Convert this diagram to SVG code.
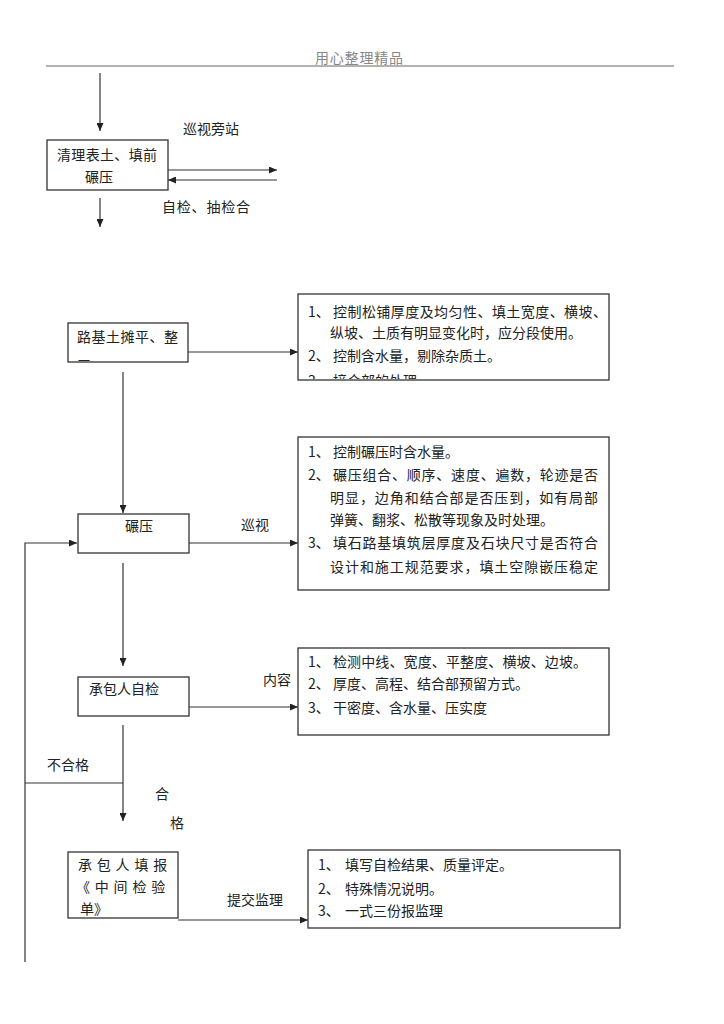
<svg xmlns="http://www.w3.org/2000/svg" width="724" height="1024" viewBox="0 0 724 1024">
<style>
text{font-family:"Noto Sans CJK SC","Liberation Sans",sans-serif;font-size:14px;fill:#222}
.hdr{fill:#888}
.box{fill:#fff;stroke:#333;stroke-width:1.3}
.ln{fill:none;stroke:#333;stroke-width:1.2}
</style>
<defs>
<marker id="ah" markerUnits="userSpaceOnUse" markerWidth="9" markerHeight="7" refX="8" refY="3.5" orient="auto"><path d="M0,0 L8,3.5 L0,7 z" fill="#222"/></marker>
<clipPath id="c2"><rect x="69" y="324" width="118" height="37"/></clipPath>
<clipPath id="c3"><rect x="299" y="295" width="309" height="84"/></clipPath>
<clipPath id="c7"><rect x="69" y="853" width="108" height="64"/></clipPath>
</defs>
<rect width="724" height="1024" fill="#fff"/>
<g id="header">
<text class="hdr" x="315" y="63" textLength="88">用心整理精品</text>
<line x1="46" y1="66" x2="674" y2="66" stroke="#666" stroke-width="1"/>
</g>
<g id="connectors">
<line class="ln" x1="100" y1="73" x2="100" y2="131" marker-end="url(#ah)"/>
<line class="ln" x1="168" y1="170" x2="277" y2="170" marker-end="url(#ah)"/>
<line class="ln" x1="277" y1="180" x2="168" y2="180" marker-end="url(#ah)"/>
<line class="ln" x1="100" y1="198" x2="100" y2="227" marker-end="url(#ah)"/>
<line class="ln" x1="188" y1="352" x2="298" y2="352" marker-end="url(#ah)"/>
<line class="ln" x1="123" y1="372" x2="123" y2="513" marker-end="url(#ah)"/>
<line class="ln" x1="189" y1="543" x2="298" y2="543" marker-end="url(#ah)"/>
<polyline class="ln" points="25,962 25,543 77,543" marker-end="url(#ah)"/>
<line class="ln" x1="123" y1="563" x2="123" y2="666" marker-end="url(#ah)"/>
<line class="ln" x1="189" y1="707" x2="298" y2="707" marker-end="url(#ah)"/>
<line class="ln" x1="123" y1="725" x2="123" y2="821" marker-end="url(#ah)"/>
<line class="ln" x1="25" y1="783" x2="123" y2="783"/>
<line class="ln" x1="178" y1="920" x2="308" y2="920" marker-end="url(#ah)"/>
</g>
<g id="labels">
<text x="183" y="134">巡视旁站</text>
<text x="162" y="212" textLength="88">自检、抽检合</text>
<text x="241" y="530">巡视</text>
<text x="263" y="685">内容</text>
<text x="47" y="770">不合格</text>
<text x="155" y="799">合</text>
<text x="170" y="828">格</text>
<text x="227" y="905">提交监理</text>
</g>
<g id="node-clear">
<rect class="box" x="47" y="140" width="121" height="50"/>
<text x="57" y="160" textLength="100">清理表土、填前</text>
<text x="85" y="182">碾压</text>
</g>
<g id="node-level">
<rect class="box" x="68" y="323" width="120" height="39"/>
<g clip-path="url(#c2)">
<text x="77" y="342" textLength="101">路基土摊平、整</text>
<text x="77" y="371">平</text>
</g>
</g>
<g id="note-level">
<rect class="box" x="298" y="294" width="311" height="86"/>
<g clip-path="url(#c3)">
<text x="308" y="317">1、</text>
<text x="333" y="317" textLength="274">控制松铺厚度及均匀性、填土宽度、横坡、</text>
<text x="330" y="338">纵坡、土质有明显变化时，应分段使用。</text>
<text x="308" y="361">2、</text>
<text x="333" y="361">控制含水量，剔除杂质土。</text>
<text x="308" y="386">3、</text>
<text x="333" y="386">接合部的处理</text>
</g>
</g>
<g id="node-roll">
<rect class="box" x="78" y="514" width="111" height="39"/>
<text x="125" y="531">碾压</text>
</g>
<g id="note-roll">
<rect class="box" x="298" y="437" width="311" height="153"/>
<text x="308" y="457">1、</text>
<text x="333" y="457">控制碾压时含水量。</text>
<text x="308" y="480">2、</text>
<text x="333" y="480" textLength="265">碾压组合、顺序、速度、遍数，轮迹是否</text>
<text x="330" y="503" textLength="268">明显，边角和结合部是否压到，如有局部</text>
<text x="330" y="525">弹簧、翻浆、松散等现象及时处理。</text>
<text x="308" y="548">3、</text>
<text x="333" y="548" textLength="265">填石路基填筑层厚度及石块尺寸是否符合</text>
<text x="330" y="572" textLength="268">设计和施工规范要求，填土空隙嵌压稳定</text>
</g>
<g id="node-selfcheck">
<rect class="box" x="78" y="677" width="111" height="39"/>
<text x="89" y="694">承包人自检</text>
</g>
<g id="note-selfcheck">
<rect class="box" x="298" y="648" width="311" height="87"/>
<text x="308" y="667">1、</text>
<text x="333" y="667" textLength="254">检测中线、宽度、平整度、横坡、边坡。</text>
<text x="308" y="689">2、</text>
<text x="333" y="689">厚度、高程、结合部预留方式。</text>
<text x="308" y="713">3、</text>
<text x="333" y="713">干密度、含水量、压实度</text>
</g>
<g id="node-report">
<rect class="box" x="68" y="852" width="110" height="66"/>
<g clip-path="url(#c7)">
<text x="78" y="870" letter-spacing="4.8">承包人填报</text>
<text x="76" y="892" letter-spacing="4.8">《中间检验</text>
<text x="80" y="914" font-size="12">单》</text>
</g>
</g>
<g id="note-report">
<rect class="box" x="308" y="850" width="312" height="78"/>
<text x="318" y="870">1、</text>
<text x="345" y="870">填写自检结果、质量评定。</text>
<text x="318" y="894">2、</text>
<text x="345" y="894">特殊情况说明。</text>
<text x="318" y="916">3、</text>
<text x="345" y="916">一式三份报监理</text>
</g>
</svg>
